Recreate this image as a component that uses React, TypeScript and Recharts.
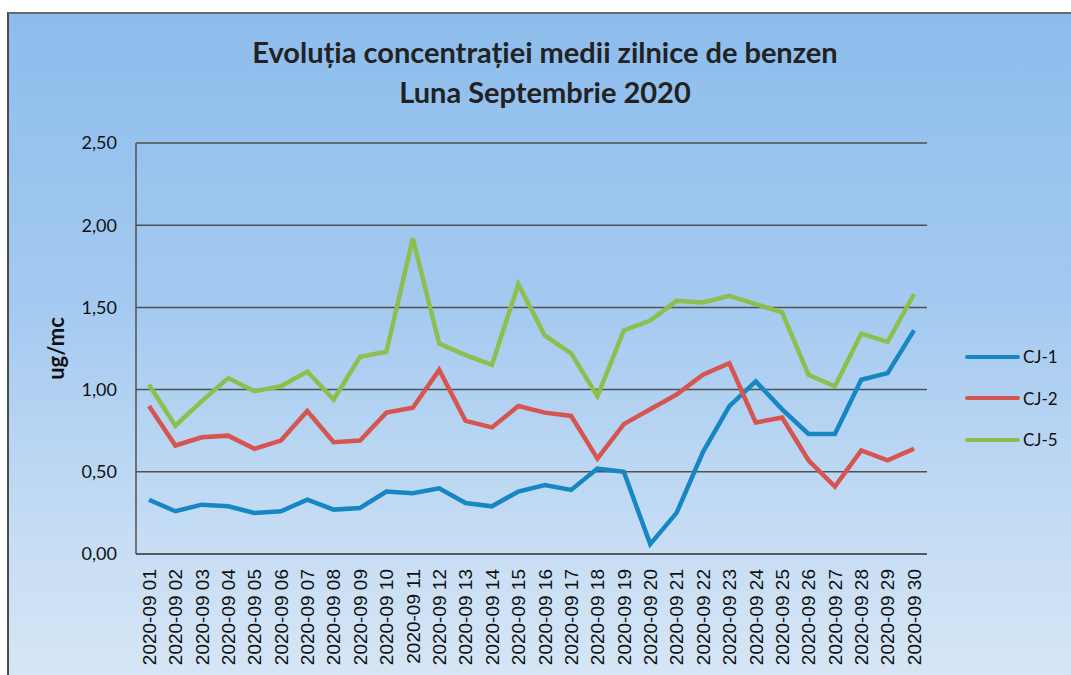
import React from 'react';
import { LineChart, Line, XAxis, YAxis, CartesianGrid, Label } from 'recharts';

// Benzen - medii zilnice, septembrie 2020

const days: string[] = [
  '2020-09 01', '2020-09 02', '2020-09 03', '2020-09 04', '2020-09 05',
  '2020-09 06', '2020-09 07', '2020-09 08', '2020-09 09', '2020-09 10',
  '2020-09 11', '2020-09 12', '2020-09 13', '2020-09 14', '2020-09 15',
  '2020-09 16', '2020-09 17', '2020-09 18', '2020-09 19', '2020-09 20',
  '2020-09 21', '2020-09 22', '2020-09 23', '2020-09 24', '2020-09 25',
  '2020-09 26', '2020-09 27', '2020-09 28', '2020-09 29', '2020-09 30',
];

const cj1: number[] = [
  0.33, 0.26, 0.30, 0.29, 0.25, 0.26, 0.33, 0.27, 0.28, 0.38,
  0.37, 0.40, 0.31, 0.29, 0.38, 0.42, 0.39, 0.52, 0.50, 0.06,
  0.25, 0.62, 0.90, 1.05, 0.88, 0.73, 0.73, 1.06, 1.10, 1.36,
];

const cj2: number[] = [
  0.90, 0.66, 0.71, 0.72, 0.64, 0.69, 0.87, 0.68, 0.69, 0.86,
  0.89, 1.12, 0.81, 0.77, 0.90, 0.86, 0.84, 0.58, 0.79, 0.88,
  0.97, 1.09, 1.16, 0.80, 0.83, 0.57, 0.41, 0.63, 0.57, 0.64,
];

const cj5: number[] = [
  1.03, 0.78, 0.93, 1.07, 0.99, 1.02, 1.11, 0.94, 1.20, 1.23,
  1.92, 1.28, 1.21, 1.15, 1.64, 1.33, 1.22, 0.96, 1.36, 1.42,
  1.54, 1.53, 1.57, 1.52, 1.47, 1.09, 1.02, 1.34, 1.29, 1.58,
];

const yTicks: number[] = [0, 0.5, 1, 1.5, 2, 2.5];

const series = [
  { key: 'CJ-1', values: cj1, color: '#1787c3' },
  { key: 'CJ-2', values: cj2, color: '#d65551' },
  { key: 'CJ-5', values: cj5, color: '#8dbf4f' },
];

const data = days.map((day, i) => {
  const row: Record<string, string | number> = { day };
  series.forEach((s) => {
    row[s.key] = s.values[i];
  });
  return row;
});

const fmt = (v: number) => v.toFixed(2).replace('.', ',');

const DayTick = (props: any) => {
  const { x, y, payload } = props;
  return (
    <text
      x={x}
      y={y}
      transform={`rotate(-90, ${x}, ${y})`}
      textAnchor="end"
      dy="0.36em"
      fill="#111"
      fontSize={19}
      fontFamily="'Liberation Sans', Arial, sans-serif"
    >
      {payload.value}
    </text>
  );
};

const LegendBox = () => (
  <div
    style={{
      position: 'absolute',
      left: 965,
      top: 336,
      fontFamily: 'Lato, sans-serif',
      fontSize: 17,
      color: '#111',
    }}
  >
    {series.map((s) => (
      <div key={s.key} style={{ display: 'flex', alignItems: 'center', height: 41.5 }}>
        <div style={{ width: 55, height: 4, background: s.color, borderRadius: 2, marginRight: 3 }} />
        <span>{s.key}</span>
      </div>
    ))}
  </div>
);

const App: React.FC = () => {
  return (
    <div
      style={{
        position: 'fixed',
        left: 0,
        top: 0,
        width: 1071,
        height: 675,
        overflow: 'hidden',
        background: '#fff',
      }}
    >
      <div
        style={{
          position: 'absolute',
          left: 7,
          top: 12,
          width: 1100,
          height: 700,
          borderLeft: '2px solid #4a4a4a',
          borderTop: '2px solid #6a6a6a',
          background: 'linear-gradient(180deg, #8dbdec 0%, #a3c9f0 40%, #c6ddf4 75%, #dbe8f6 100%)',
        }}
      />
      <div
        style={{
          position: 'absolute',
          left: 0,
          top: 32,
          width: 1090,
          textAlign: 'center',
          fontFamily: 'Lato, sans-serif',
          fontWeight: 700,
          fontSize: 29,
          lineHeight: '40px',
          color: '#222',
        }}
      >
        <div>Evoluția concentrației medii zilnice de benzen</div>
        <div>Luna Septembrie 2020</div>
      </div>
      <div style={{ position: 'absolute', left: 0, top: 0 }}>
        <LineChart
          width={1071}
          height={675}
          data={data}
          margin={{ top: 143, right: 144, bottom: 0, left: 30 }}
        >
          <CartesianGrid vertical={false} stroke="#505050" strokeWidth={1.5} />
          <XAxis
            dataKey="day"
            interval={0}
            height={121}
            padding={{ left: 13, right: 13 }}
            tickLine={false}
            axisLine={{ stroke: '#505050', strokeWidth: 1.5 }}
            tick={<DayTick />}
            tickMargin={9}
          />
          <YAxis
            width={106}
            domain={[0, 2.5]}
            ticks={yTicks}
            tickFormatter={fmt}
            tickLine={false}
            tickSize={0}
            tickMargin={19}
            axisLine={{ stroke: '#505050', strokeWidth: 1.5 }}
            tick={{ fill: '#111', fontSize: 18, fontFamily: 'Lato, sans-serif' }}
          >
            <Label
              value="ug/mc"
              angle={-90}
              position="insideLeft"
              offset={26}
              style={{
                textAnchor: 'middle',
                fontFamily: 'Lato, sans-serif',
                fontWeight: 700,
                fontSize: 22,
                fill: '#111',
              }}
            />
          </YAxis>
          {series.map((s) => (
            <Line
              key={s.key}
              type="linear"
              dataKey={s.key}
              stroke={s.color}
              strokeWidth={4.5}
              dot={false}
              activeDot={false}
              isAnimationActive={false}
            />
          ))}
        </LineChart>
      </div>
      <LegendBox />
    </div>
  );
};

export default App;
